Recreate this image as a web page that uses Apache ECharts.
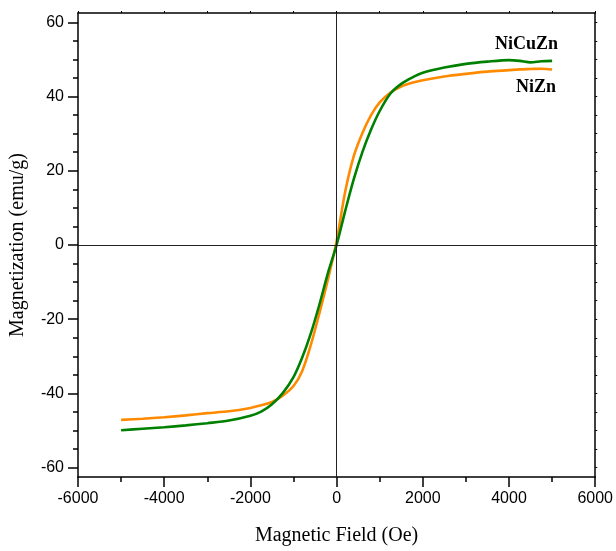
<!DOCTYPE html>
<html>
<head>
<meta charset="utf-8">
<title>Magnetization vs Magnetic Field</title>
<script src="https://cdn.jsdelivr.net/npm/echarts@6/dist/echarts.min.js"></script>
<style>
  html, body { margin: 0; padding: 0; background: #fff; }
  #chart { width: 616px; height: 551px; }
</style>
</head>
<body>
<div id="chart"></div>
<script>
// Applied field (Oe) at which both hysteresis curves are sampled
const fieldOe = [-5000, -4500, -4000, -3500, -3000, -2500, -2000, -1750, -1500, -1250,
  -1000, -800, -600, -400, -200, 0, 200, 400, 600, 800, 1000, 1250, 1500, 1750,
  2000, 2500, 3000, 3500, 4000, 4250, 4500, 4750, 5000];

// Magnetization (emu/g) of the NiZn ferrite
const niZn = [-47.1, -46.8, -46.4, -45.9, -45.3, -44.8, -43.9, -43.2, -42.3, -40.6,
  -38.0, -34.0, -27.0, -18.4, -9.2, 1.0, 14.4, 24.0, 30.2, 35.0, 38.4, 41.1, 42.7, 43.7,
  44.4, 45.4, 46.1, 46.7, 47.1, 47.3, 47.4, 47.5, 47.3];

// Magnetization (emu/g) of the NiCuZn ferrite
const niCuZn = [-49.9, -49.5, -49.1, -48.6, -48.0, -47.3, -46.0, -44.9, -42.9, -39.9,
  -35.6, -30.4, -23.9, -16.1, -7.5, 0.0, 9.2, 17.8, 25.1, 31.1, 36.1, 40.8, 43.4, 45.1,
  46.4, 47.8, 48.8, 49.4, 49.8, 49.6, 49.2, 49.5, 49.6];

// Axis tick values
const yMajorTicks = [-60, -40, -20, 0, 20, 40, 60];
const yMinorTicks = [-60, -55, -50, -45, -40, -35, -30, -25, -20, -15, -10, -5, 0,
  5, 10, 15, 20, 25, 30, 35, 40, 45, 50, 55, 60];
const xMajorTicks = [-6000, -4000, -2000, 0, 2000, 4000, 6000];
const xMinorTicks = [-6000, -5000, -4000, -3000, -2000, -1000, 0, 1000, 2000, 3000, 4000, 5000, 6000];

const seriesNames = ['NiZn', 'NiCuZn'];

const toPairs = (xs, ys) => xs.map((x, i) => [x, ys[i]]);
const plain = (v) => String(v);

const chart = echarts.init(document.getElementById('chart'), null, { renderer: 'canvas' });

const labelFont = { fontFamily: '"Liberation Sans", Arial, sans-serif', fontSize: 16, color: '#000' };
const serifFont = '"Liberation Serif", "Times New Roman", serif';
const Y_MIN = -62.5, Y_MAX = 62.5;

const option = {
  backgroundColor: '#fff',
  animation: false,
  grid: { left: 77, right: 18, top: 13, bottom: 70, containLabel: false },
  xAxis: [
    {
      // bottom axis: labels, major ticks
      type: 'value', position: 'bottom', min: -6000, max: 6000,
      name: 'Magnetic Field (Oe)', nameLocation: 'middle', nameGap: 49,
      nameTextStyle: { fontFamily: serifFont, fontSize: 20, color: '#000' },
      axisLine: { show: true, onZero: false, lineStyle: { color: '#000', width: 1.5 } },
      axisTick: { show: true, customValues: xMajorTicks, length: 10, lineStyle: { color: '#000', width: 1.5 } },
      axisLabel: { show: true, customValues: xMajorTicks, margin: 14, formatter: plain, ...labelFont },
      splitLine: { show: false }
    },
    {
      // bottom axis: minor ticks
      type: 'value', position: 'bottom', min: -6000, max: 6000,
      axisLine: { show: false, onZero: false },
      axisTick: { show: true, customValues: xMinorTicks, length: 5, lineStyle: { color: '#000', width: 1.5 } },
      axisLabel: { show: false },
      splitLine: { show: false }
    },
    {
      // top frame edge
      type: 'value', position: 'top', min: -6000, max: 6000,
      axisLine: { show: true, onZero: false, lineStyle: { color: '#000', width: 1.5 } },
      axisTick: { show: true, customValues: xMinorTicks, length: 2, lineStyle: { color: '#000', width: 1 } },
      axisLabel: { show: false },
      splitLine: { show: false }
    }
  ],
  yAxis: [
    {
      // left axis: labels, major ticks
      type: 'value', position: 'left', min: Y_MIN, max: Y_MAX,
      name: 'Magnetization (emu/g)', nameLocation: 'middle', nameGap: 50,
      nameTextStyle: { fontFamily: serifFont, fontSize: 20, color: '#000' },
      axisLine: { show: true, onZero: false, lineStyle: { color: '#000', width: 1.5 } },
      axisTick: { show: true, customValues: yMajorTicks, length: 10, lineStyle: { color: '#000', width: 1.5 } },
      axisLabel: { show: true, customValues: yMajorTicks, margin: 14, formatter: plain, ...labelFont },
      splitLine: { show: false }
    },
    {
      // left axis: minor ticks
      type: 'value', position: 'left', min: Y_MIN, max: Y_MAX,
      axisLine: { show: false, onZero: false },
      axisTick: { show: true, customValues: yMinorTicks, length: 5, lineStyle: { color: '#000', width: 1.5 } },
      axisLabel: { show: false },
      splitLine: { show: false }
    },
    {
      // right frame edge
      type: 'value', position: 'right', min: Y_MIN, max: Y_MAX,
      axisLine: { show: true, onZero: false, lineStyle: { color: '#000', width: 1.5 } },
      axisTick: { show: true, customValues: yMinorTicks, length: 2, lineStyle: { color: '#000', width: 1 } },
      axisLabel: { show: false },
      splitLine: { show: false }
    }
  ],
  series: [
    {
      name: seriesNames[0], type: 'line', xAxisIndex: 0, yAxisIndex: 0,
      data: toPairs(fieldOe, niZn), smooth: 0.3, showSymbol: false,
      lineStyle: { color: '#ff8a00', width: 2.6 }, z: 3,
      markLine: {
        silent: true, symbol: 'none', animation: false,
        label: { show: false },
        lineStyle: { color: '#222', width: 1, type: 'solid' },
        data: [{ xAxis: 0 }, { yAxis: 0 }]
      }
    },
    {
      name: seriesNames[1], type: 'line', xAxisIndex: 0, yAxisIndex: 0,
      data: toPairs(fieldOe, niCuZn), smooth: 0.3, showSymbol: false,
      lineStyle: { color: '#008000', width: 2.6 }, z: 4
    }
  ],
  graphic: [
    {
      type: 'text', right: 58, top: 35,
      style: { text: seriesNames[1], font: 'bold 18px ' + serifFont, fill: '#000' }
    },
    {
      type: 'text', right: 60, top: 78,
      style: { text: seriesNames[0], font: 'bold 18px ' + serifFont, fill: '#000' }
    }
  ]
};

chart.setOption(option);
</script>
</body>
</html>
